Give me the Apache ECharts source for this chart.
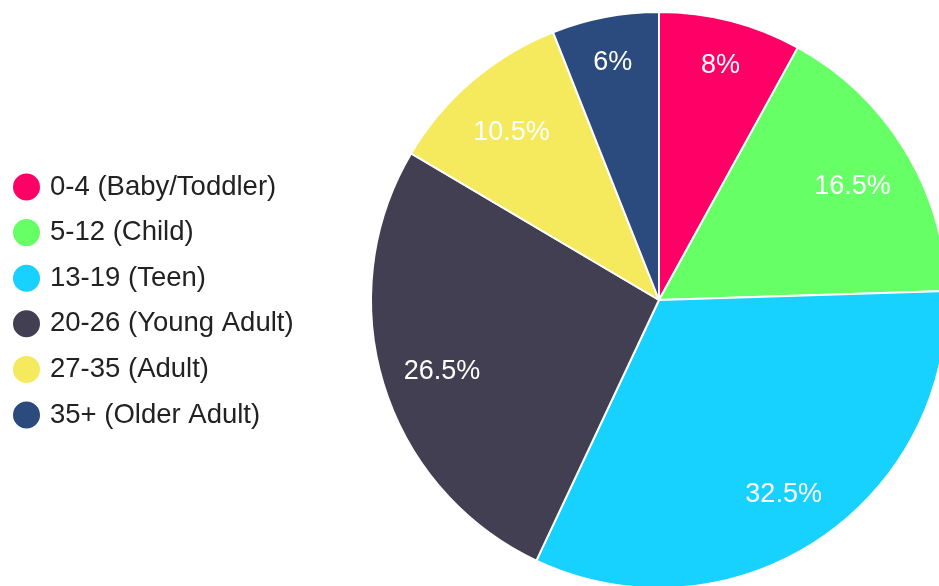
<!DOCTYPE html>
<html>
<head>
<meta charset="utf-8">
<script src="https://cdn.jsdelivr.net/npm/echarts@6/dist/echarts.min.js"></script>
<style>
  html, body { margin: 0; padding: 0; background: #fff; }
  #chart { width: 939px; height: 586px; }
</style>
</head>
<body>
<div id="chart"></div>
<script>
// age groups and share of each (percent)
const categories = ["0-4 (Baby/Toddler)", "5-12 (Child)", "13-19 (Teen)", "20-26 (Young Adult)", "27-35 (Adult)", "35+ (Older Adult)"];
const values = [8, 16.5, 32.5, 26.5, 10.5, 6];
const colors = ["#FF0066", "#66FF66", "#17D1FF", "#433F52", "#F5EA5E", "#2B4A7E"];

const FONT = "'Liberation Sans', Arial, sans-serif";

const pieData = categories.map((name, i) => ({ name: name, value: values[i] }));

// transparent ring, only used to place the percent labels of some slices
function labelRing(r0, pick) {
  return {
    type: "pie",
    center: [659, 300],
    radius: [r0, 288],
    startAngle: 90,
    clockwise: true,
    silent: true,
    legendHoverLink: false,
    itemStyle: { color: "transparent", borderWidth: 0 },
    emphasis: { disabled: true },
    label: {
      show: true,
      position: "inside",
      offset: [0, 5],
      color: "#fff",
      fontFamily: FONT,
      fontSize: 27,
      formatter: function (p) { return p.value + "%"; }
    },
    labelLine: { show: false },
    data: pieData.map(d => ({ name: d.name, value: d.value, label: { show: pick(d.value) } }))
  };
}

const chart = echarts.init(document.getElementById("chart"));
chart.setOption({
  animation: false,
  color: colors,
  legend: {
    orient: "vertical",
    left: 11,
    top: 171.5,
    padding: 0,
    icon: "circle",
    itemWidth: 29,
    itemHeight: 29,
    itemGap: 14.6,
    data: categories,
    textStyle: {
      fontFamily: FONT,
      fontSize: 27.5,
      lineHeight: 27,
      color: "#222",
      padding: [0, 0, 0, 4]
    }
  },
  series: [
    {
      // the slices
      type: "pie",
      center: [659, 300],
      radius: [0, 288],
      startAngle: 90,
      clockwise: true,
      label: { show: false },
      labelLine: { show: false },
      itemStyle: { borderColor: "#fff", borderWidth: 2 },
      emphasis: { disabled: true },
      data: pieData
    },
    labelRing(200, v => v < 10),
    labelRing(160, v => v >= 10)
  ]
});
</script>
</body>
</html>
